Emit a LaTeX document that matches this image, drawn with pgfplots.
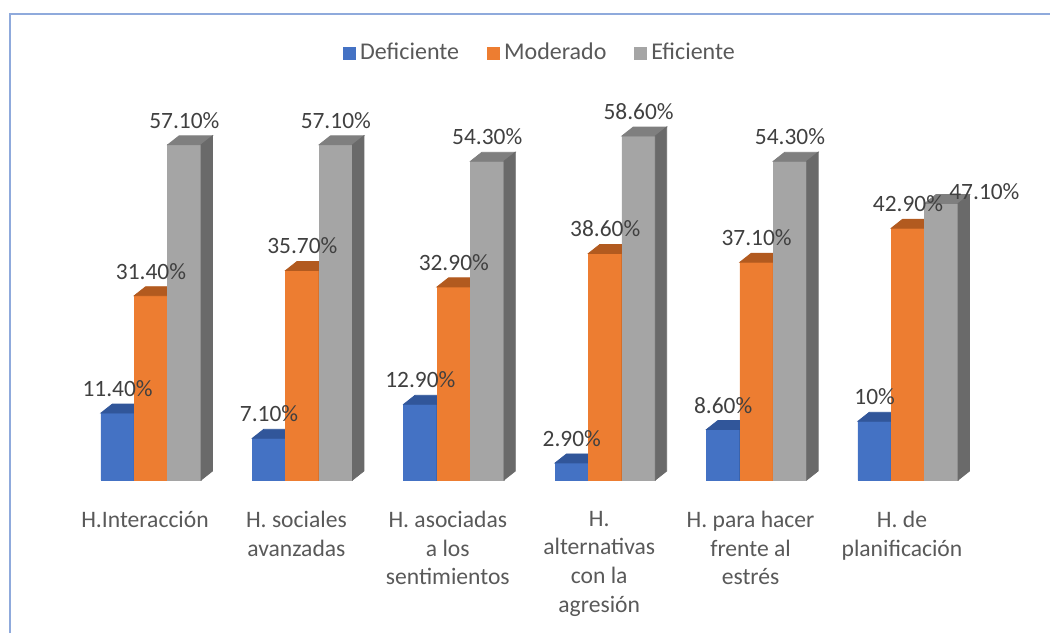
\documentclass[border=0pt]{standalone}
\usepackage{pgfplots}
\pgfplotsset{compat=1.18}
\usepackage{pgfplotstable}
\usepackage{fontspec}
\setmainfont{Carlito}
\definecolor{cB}{HTML}{4472C4}
\definecolor{cBt}{HTML}{31569A}
\definecolor{cBs}{HTML}{2F528F}
\definecolor{cO}{HTML}{ED7D31}
\definecolor{cOt}{HTML}{B25A1F}
\definecolor{cOs}{HTML}{B95E20}
\definecolor{cG}{HTML}{A5A5A5}
\definecolor{cGt}{HTML}{7F7F7F}
\definecolor{cGs}{HTML}{6A6A6A}
\definecolor{frame}{HTML}{8FAADC}
\definecolor{lbl}{HTML}{404040}
\definecolor{txt}{HTML}{595959}

\pgfplotstableread{
x d m e dl ml el edx edy
0 11.4 31.4 57.1 11.40 31.40 57.10 0 0
1 7.1 35.7 57.1 7.10 35.70 57.10 0 0
2 12.9 32.9 54.3 12.90 32.90 54.30 0 0
3 2.9 38.6 58.6 2.90 38.60 58.60 0 0
4 8.6 37.1 54.3 8.60 37.10 54.30 0 0
5 10 42.9 47.1 10 42.90 47.10 21.5 -6.25
}\data

\pgfplotsset{
  mylegend/.style={legend image code/.code={\draw[##1,draw=none] (0pt,-3.25pt) rectangle (6.5pt,3.25pt);}},
  faces/.style n args={3}{
    only marks, scatter, mark=*, mark size=0pt,
    scatter/@pre marker code/.code={%
      \pgfmathsetlengthmacro\hh{\hv*2.935pt}%
      \fill[#3] (-8.35pt,{-\hh}) rectangle (8.35pt,0pt);
      \fill[#1] (-8.35pt,0pt) -- (8.35pt,0pt) -- (14.05pt,4.5pt) -- (-2.65pt,4.5pt) -- cycle;
      \fill[#2] (8.35pt,0pt) -- (14.05pt,4.5pt) -- (14.05pt,{4.5pt-\hh}) -- (8.35pt,{-\hh}) -- cycle;
      \begin{scope}[opacity=0]},
    scatter/@post marker code/.code={\end{scope}},
  },
  lab/.style={forget plot, draw=none, mark=none, point meta=explicit symbolic,
    nodes near coords={\pgfplotspointmeta\%},
    nodes near coords style={font=\fontsize{11.7}{14}\selectfont, text=lbl, anchor=south, yshift=4.6pt}},
}

\begin{document}
\begin{tikzpicture}
\begin{axis}[
  x=75.7pt, y=2.935pt,
  xmin=-0.6, xmax=5.6, ymin=0, ymax=60,
  clip=false,
  axis line style={draw=none},
  ytick=\empty,
  xtick={0,...,5},
  major tick length=0pt,
  xtick style={draw=none},
  xticklabels={{H.Interacción},{H. sociales\\avanzadas},{H. asociadas\\a los\\sentimientos},{H.\\alternativas\\con la\\agresión},{H. para hacer\\frente al\\estrés},{H. de\\planificación}},
  xticklabel style={align=center, font=\fontsize{11.8}{14.3}\selectfont, text=txt, yshift=-12pt, xshift=-3pt},
  legend columns=3,
  legend style={at={(axis cs:2.576,72.74)}, anchor=center, draw=none, fill=none,
    font=\fontsize{12}{14}\selectfont, text=txt,
    /tikz/every even column/.append style={column sep=12pt}},
]
\addplot[ybar, bar width=16.7pt, bar shift=-16.7pt, fill=cB, draw=none, mylegend] table[x=x,y=d]{\data};
\addlegendentry{Deficiente}
\addplot[ybar, bar width=16.7pt, bar shift=0pt, fill=cO, draw=none, mylegend] table[x=x,y=m]{\data};
\addlegendentry{Moderado}
\addplot[ybar, bar width=16.7pt, bar shift=16.7pt, fill=cG, draw=none, mylegend] table[x=x,y=e]{\data};
\addlegendentry{Eficiente}

\addplot[forget plot, faces={cBt}{cBs}{cB}, visualization depends on={\thisrow{d} \as \hv}] table[x expr=\thisrow{x}-0.22061, y=d]{\data};
\addplot[forget plot, faces={cOt}{cOs}{cO}, visualization depends on={\thisrow{m} \as \hv}] table[x=x, y=m]{\data};
\addplot[forget plot, faces={cGt}{cGs}{cG}, visualization depends on={\thisrow{e} \as \hv}] table[x expr=\thisrow{x}+0.22061, y=e]{\data};

\addplot[lab] table[x expr=\thisrow{x}-0.22061, y=d, meta=dl]{\data};
\addplot[lab] table[x=x, y=m, meta=ml]{\data};
\addplot[lab, visualization depends on={\thisrow{edx} \as \edx}, visualization depends on={\thisrow{edy} \as \edy},
  nodes near coords style={xshift={\edx*1pt}, yshift={\edy*1pt}}] table[x expr=\thisrow{x}+0.22061, y=e, meta=el]{\data};

\coordinate (bl) at (axis cs:-0.99736,-26.065);
\coordinate (tr) at (axis cs:5.9379,81.772);
\end{axis}
\draw[frame, line width=0.8pt] ([xshift=5pt]bl) |- ([yshift=-7pt]tr);
\pgfresetboundingbox
\path[use as bounding box] (bl) rectangle (tr);
\end{tikzpicture}
\end{document}
